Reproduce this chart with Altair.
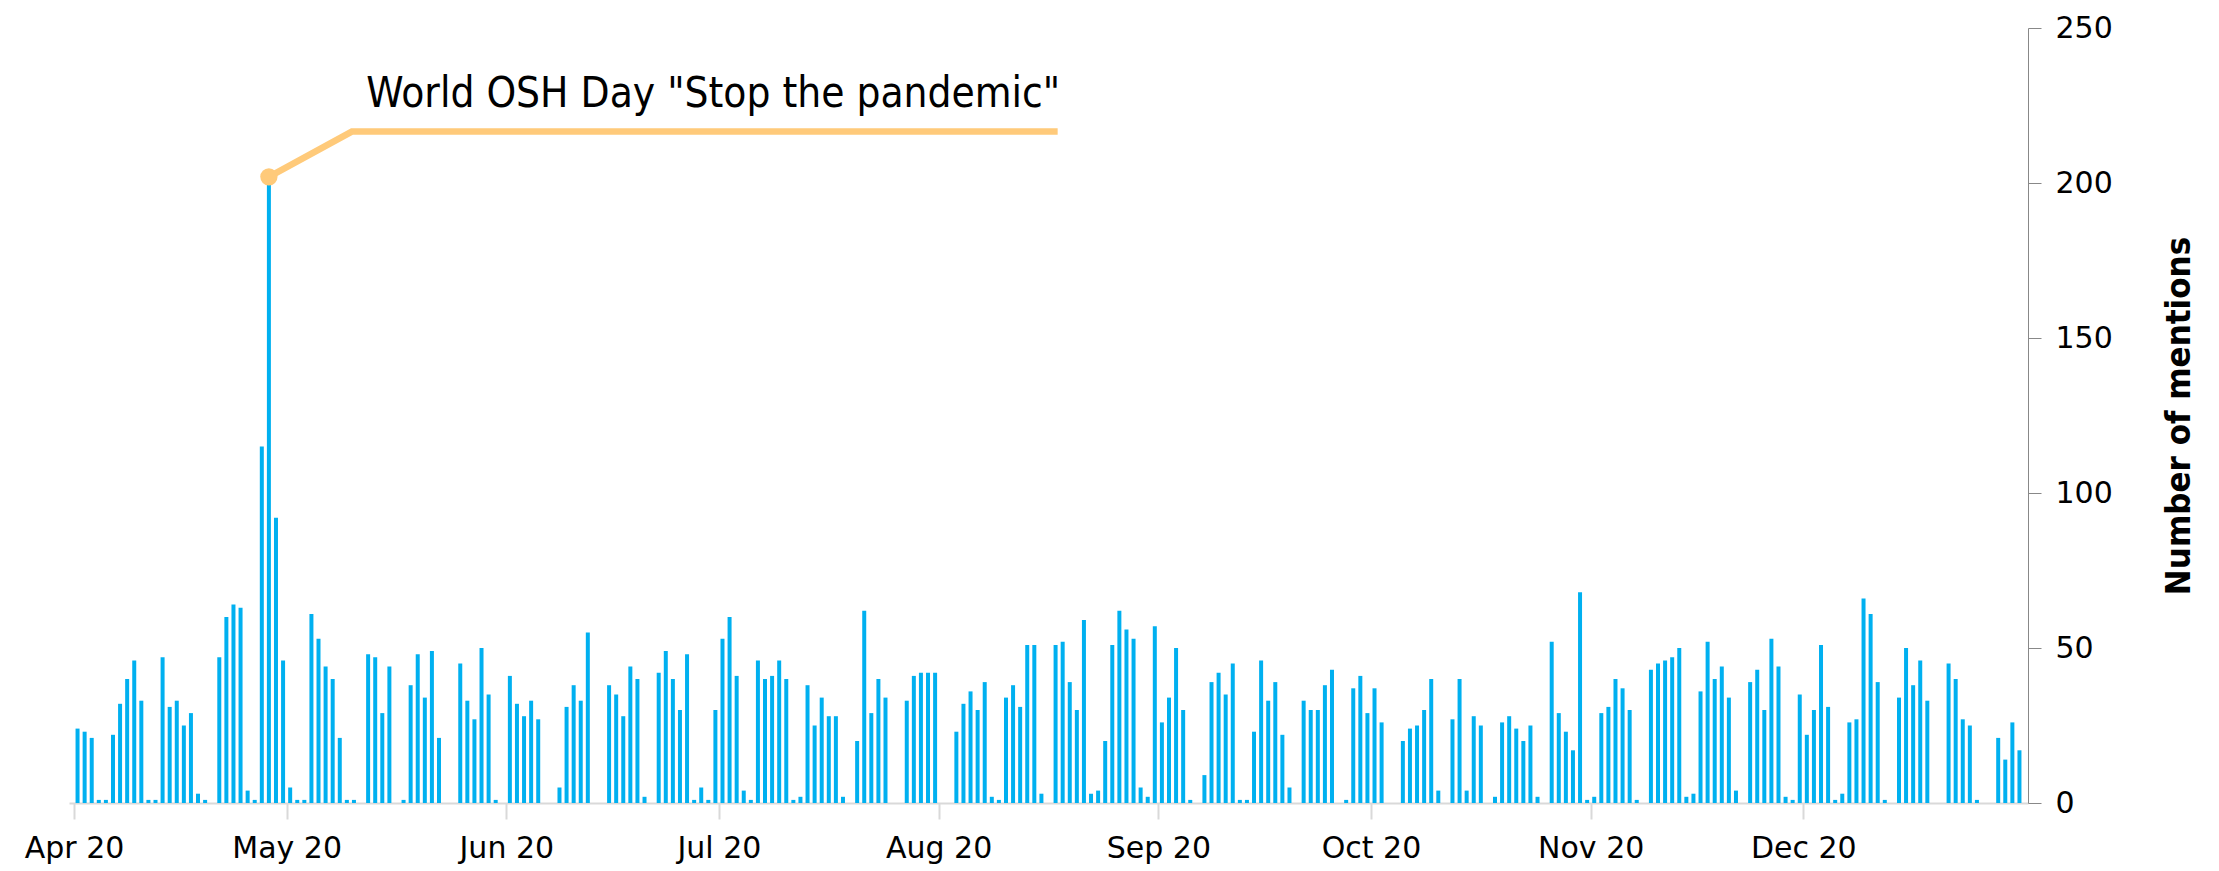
import altair as alt
import pandas as pd

# Daily number of mentions, 1 Apr 2020 - 31 Dec 2020
apr = [24, 23, 21, 1, 1, 22, 32, 40, 46, 33, 1, 1, 47, 31, 33, 25, 29, 3, 1, 0,
       47, 60, 64, 63, 4, 1, 115, 202, 92, 46]
may = [5, 1, 1, 61, 53, 44, 40, 21, 1, 1, 0, 48, 47, 29, 44, 0, 1, 38, 48, 34,
       49, 21, 0, 0, 45, 33, 27, 50, 35, 1, 0]
jun = [41, 32, 28, 33, 27, 0, 0, 5, 31, 38, 33, 55, 0, 0, 38, 35, 28, 44, 40, 2,
       0, 42, 49, 40, 30, 48, 1, 5, 1, 30]
jul = [53, 60, 41, 4, 1, 46, 40, 41, 46, 40, 1, 2, 38, 25, 34, 28, 28, 2, 0, 20,
       62, 29, 40, 34, 0, 0, 33, 41, 42, 42, 42]
aug = [0, 0, 23, 32, 36, 30, 39, 2, 1, 34, 38, 31, 51, 51, 3, 0, 51, 52, 39, 30,
       59, 3, 4, 20, 51, 62, 56, 53, 5, 2, 57]
sep = [26, 34, 50, 30, 1, 0, 9, 39, 42, 35, 45, 1, 1, 23, 46, 33, 39, 22, 5, 0,
       33, 30, 30, 38, 43, 0, 1, 37, 41, 29]
oct_ = [37, 26, 0, 0, 20, 24, 25, 30, 40, 4, 0, 27, 40, 4, 28, 25, 0, 2, 26, 28,
        24, 20, 25, 2, 0, 52, 29, 23, 17, 68, 1]
nov = [2, 29, 31, 40, 37, 30, 1, 0, 43, 45, 46, 47, 50, 2, 3, 36, 52, 40, 44, 34,
       4, 0, 39, 43, 30, 53, 44, 2, 1, 35]
dec = [22, 30, 51, 31, 1, 3, 26, 27, 66, 61, 39, 1, 0, 34, 50, 38, 46, 33, 0, 0,
       45, 40, 27, 25, 1, 0, 0, 21, 14, 26, 17]

values = apr + may + jun + jul + aug + sep + oct_ + nov + dec
dates = pd.date_range("2020-04-01 12:00:00", periods=len(values), freq="D")
df = pd.DataFrame({"date": dates, "mentions": values})

# Annotation (leader line in data units)
ann_text = 'World OSH Day "Stop the pandemic"'
ann_line_dates = ["2020-04-28T12:00:00", "2020-05-10T05:00:00", "2020-08-17T19:00:00"]
ann_line_values = [202, 216.6, 216.6]
ann_text_date = ["2020-05-12T06:00:00"]
ann_text_value = [224.4]

month_ticks = [alt.DateTime(year=2020, month=m, date=1) for m in range(4, 13)]
x_scale = alt.Scale(domain=[alt.DateTime(year=2020, month=4, date=1),
                            alt.DateTime(year=2021, month=1, date=1)])
y_scale = alt.Scale(domain=[0, 250])

BAR = "#00B0F0"
ORANGE = "#FFCA7A"
Y_TITLE = "Number of mentions"

bars = alt.Chart(df).mark_bar(width=4, color=BAR).encode(
    x=alt.X("date:T", scale=x_scale, title=None,
            axis=alt.Axis(values=month_ticks, format="%b %y", title=None,
                          labelFont="DejaVu Sans", labelFontSize=30,
                          labelColor="black", labelFlush=False,
                          labelOverlap=False, domainColor="#D9D9D9",
                          domainWidth=2, tickColor="#D9D9D9", tickWidth=2,
                          tickSize=16, labelPadding=14, grid=False)),
    y=alt.Y("mentions:Q", scale=y_scale, title=Y_TITLE,
            axis=alt.Axis(orient="right", values=[0, 50, 100, 150, 200, 250],
                          title=Y_TITLE,
                          labelFont="DejaVu Sans", labelFontSize=30,
                          labelColor="black", domainColor="#888888",
                          tickColor="#888888", tickSize=13, labelPadding=14,
                          grid=False, titleFont="DejaVu Sans Condensed",
                          titleFontWeight="bold", titleFontSize=34.5,
                          titleColor="black", titleAngle=270, titleX=151,
                          titleY=387.5, titleAlign="center",
                          titleBaseline="middle")),
)

line_df = pd.DataFrame({"date": ann_line_dates, "value": ann_line_values,
                        "order": [0, 1, 2]})
leader = alt.Chart(line_df).mark_line(color=ORANGE, strokeWidth=6.5).encode(
    x=alt.X("date:T", scale=x_scale, title=None),
    y=alt.Y("value:Q", scale=y_scale, title=Y_TITLE),
    order="order:Q",
)

peak_df = df[df["mentions"] == df["mentions"].max()]
dot = alt.Chart(peak_df).mark_circle(color=ORANGE, size=300, opacity=1).encode(
    x=alt.X("date:T", scale=x_scale, title=None),
    y=alt.Y("mentions:Q", scale=y_scale, title=Y_TITLE),
)

text_df = pd.DataFrame({"date": ann_text_date, "value": ann_text_value,
                        "label": [ann_text]})
label = alt.Chart(text_df).mark_text(
    align="left", baseline="alphabetic", font="DejaVu Sans Condensed",
    fontSize=42, color="black"
).encode(
    x=alt.X("date:T", scale=x_scale, title=None),
    y=alt.Y("value:Q", scale=y_scale, title=Y_TITLE),
    text="label:N",
)

chart = alt.layer(bars, leader, dot, label).properties(
    width=1959, height=775,
    autosize=alt.AutoSizeParams(type="none"),
    padding={"left": 61, "top": 20, "right": 170, "bottom": 68},
).configure_view(stroke=None)

chart.save("out.html", embed_options={"renderer": "svg", "actions": False})
